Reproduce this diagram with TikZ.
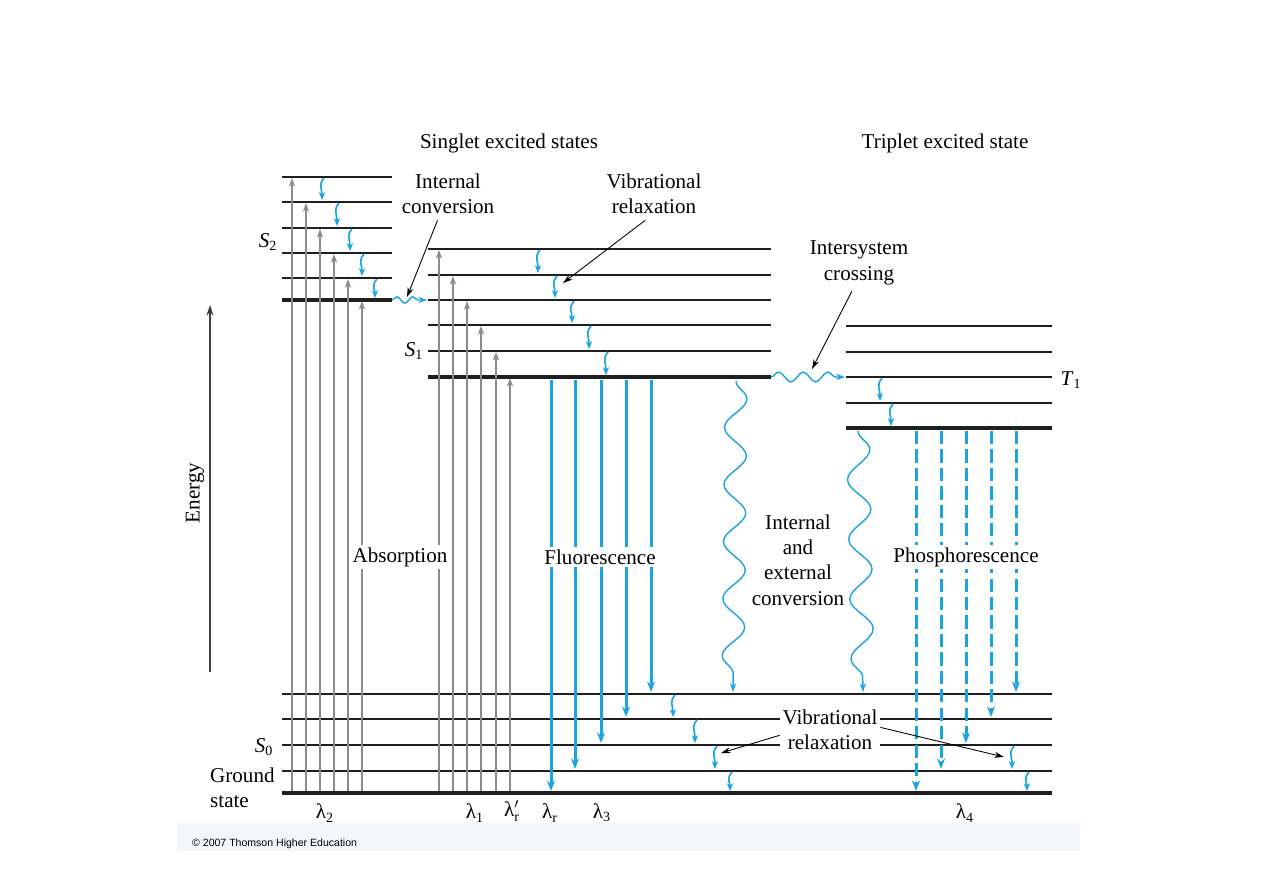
\documentclass[tikz,border=0pt]{standalone}
\usepackage{fontspec}
\setmainfont{Liberation Serif}
\newfontfamily\creditfont{Liberation Sans}
\usetikzlibrary{arrows.meta,decorations.pathmorphing}
\definecolor{jablue}{RGB}{27,163,226}
\definecolor{absgray}{RGB}{140,140,140}
\definecolor{bandblue}{RGB}{243,247,251}

\begin{document}
\begin{tikzpicture}[x=0.02cm, y=-0.02cm,
    every node/.style={font=\fontsize{12}{14.4}\selectfont},
    level/.style={line width=0.85pt, black!88},
    lowest/.style={line width=2.8pt, black!88},
    absorb/.style={absgray, line width=0.7pt, -{Stealth[length=5pt,width=3.6pt]}},
    emit/.style={jablue, line width=1.7pt, -{Stealth[length=6pt,width=4.6pt]}},
    phos/.style={emit, dash pattern=on 7.5pt off 3pt},
    vib/.style={jablue, line width=0.95pt, -{Stealth[length=4.5pt,width=3.6pt]}},
    wavy/.style 2 args={jablue, line width=0.8pt, -{Stealth[length=5pt,width=3.6pt]},
        decorate, decoration={snake, amplitude=#1, segment length=#2, post length=4pt}},
    note/.style={black, line width=0.5pt, -{Stealth[length=5.5pt,width=3.4pt]}},
    cover/.style={fill=white, inner sep=1.5pt}]
    \useasboundingbox (0,0) rectangle (1263,893);

    % credit band
    \fill[bandblue] (177,823) rectangle (1080,851);
    \node[anchor=west, font=\creditfont\fontsize{6}{7}\selectfont] (credit) at (186,844) {© 2007 Thomson Higher Education};

    % energy axis
    \draw[black!75, line width=0.7pt, -{Stealth[length=6pt,width=4pt]}] (210,672) -- (210,305);
    \node[rotate=90] (energy) at (195,493) {Energy};

    % levels
    \foreach \y in {177,202,228,253,278}
        \draw[level] (282,\y) -- (392,\y);
    \draw[lowest] (282,300) -- (392,300);
    \foreach \y in {249,275,300,325,351}
        \draw[level] (428,\y) -- (771,\y);
    \draw[lowest] (428,377) -- (771,377);
    \foreach \y in {326,352,377,403}
        \draw[level] (846,\y) -- (1052,\y);
    \draw[lowest] (846,428) -- (1052,428);
    \foreach \y in {694,719,745,771}
        \draw[level] (282,\y) -- (1052,\y);
    \draw[lowest] (282,793) -- (1052,793);

    % absorption
    \foreach \x/\y in {292/177,306/202,320/228,334/253,348/278,362/300,
                       439/249,453/275,467/300,481/325,496/351,510/377}
        \draw[absorb] (\x,791) -- (\x,\y+1);

    % fluorescence and phosphorescence
    \foreach \x/\y in {551/793,575/771,601/745,626/719,651/694}
        \draw[emit] (\x,380) -- (\x,\y-2);
    \foreach \x/\y in {916/793,941/771,966/745,991/719,1016/694}
        \draw[phos] (\x,431) -- (\x,\y-2);

    % vibrational relaxation steps
    \foreach \x/\a/\b in {322/177/202,337/202/228,350/228/253,362/253/278,375/278/300,
                          538/249/275,555/275/300,572/300/325,589/325/351,606/351/377,
                          880/377/403,891/403/428,
                          673/694/719,695/719/745,715/745/771,730/771/793,
                          1012/745/771,1027/771/793}
        \draw[vib] (\x+2,\a+1) .. controls (\x-4,\a+8) and (\x,\a+11) .. (\x,\b-2);

    % radiationless crossings
    \draw[wavy={1.8pt}{9pt}] (392,300) -- (427,300);
    \draw[wavy={2.8pt}{14pt}] (771,377) -- (845,377);
    \draw[wavy={6.3pt}{32.5pt}] (736,381) -- (733,692);
    \draw[wavy={6.5pt}{34pt}] (858,431) -- (863,692);

    % labels
    \node (singlet) at (509,143) {Singlet excited states};
    \node (triplet) at (945,143) {Triplet excited state};
    \node[align=center] (ic) at (448,194) {Internal\\conversion};
    \node[align=center] (vr) at (654,194) {Vibrational\\relaxation};
    \node[align=center] (isc) at (859,263) {Intersystem\\crossing};
    \node (s2) at (268,242) {\textit{S}\textsubscript{2}};
    \node (s1) at (414,351) {\textit{S}\textsubscript{1}};
    \node (t1) at (1071,380) {\textit{T}\textsubscript{1}};
    \node (s0) at (264,747) {\textit{S}\textsubscript{0}};
    \node[align=left, anchor=west] (ground) at (204,788) {Ground\\state};
    \node[cover] (absorption) at (400,557) {Absorption};
    \node[cover] (fluor) at (600,557) {Fluorescence};
    \node[cover] (phosph) at (966,557) {Phosphorescence};
    \node[align=center] (iec) at (798,560) {Internal\\and\\external\\conversion};
    \node[cover, align=center] (vrlow) at (830,730) {Vibrational\\relaxation};

    \node (l2) at (325,813) {λ\textsubscript{2}};
    \node (l1) at (475,813) {λ\textsubscript{1}};
    \node (lrp) at (512,811) {λ$'_{\mbox{\fontsize{8}{8}\selectfont r}}$};
    \node (lr) at (550,813) {λ\textsubscript{r}};
    \node (l3) at (602,813) {λ\textsubscript{3}};
    \node (l4) at (965,813) {λ\textsubscript{4}};

    % pointers
    \draw[note] ([xshift=-6pt]ic.south) -- (407,297);
    \draw[note] ([xshift=-5pt]vr.south) -- (563,283);
    \draw[note] ([xshift=-4pt]isc.south) -- (812,369);
    \draw[note] (vrlow.186) -- (721,753);
    \draw[note] (vrlow.3) -- (1004,757);
\end{tikzpicture}
\end{document}
